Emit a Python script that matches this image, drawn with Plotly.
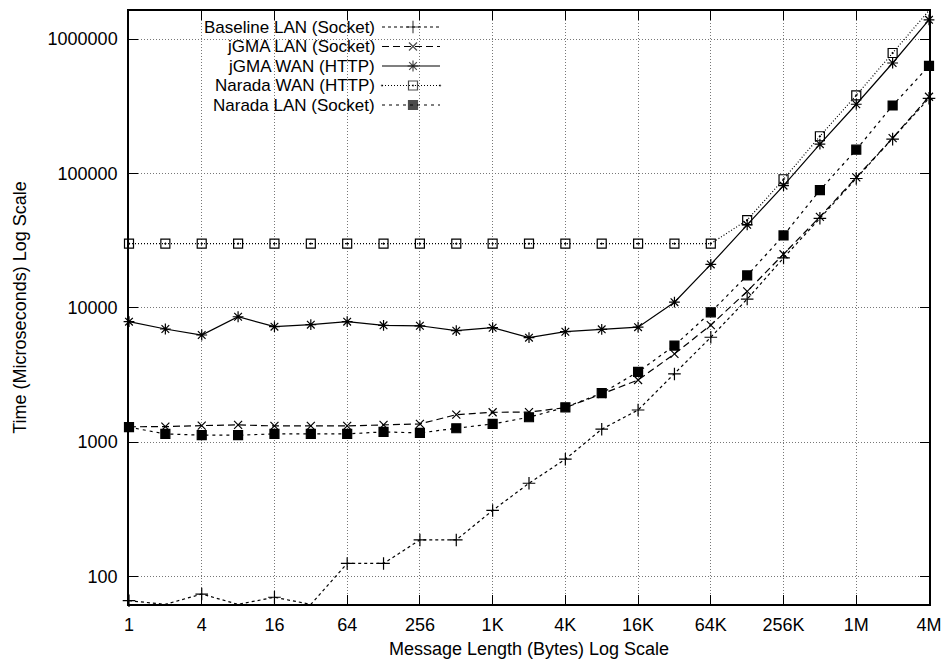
import plotly.graph_objects as go

# ---------------- data ----------------
msg_bytes = [2 ** k for k in range(23)]  # 1 .. 4M

baseline_lan = [66, 62, 74, 62, 70, 62, 125, 125, 187, 187, 310, 494, 746, 1247, 1734,
                3214, 6030, 11600, 23500, 46300, 91600, 180000, 362000]
jgma_lan = [1300, 1303, 1327, 1343, 1319, 1319, 1319, 1343, 1365, 1600, 1667, 1672, 1805,
            2280, 2900, 4530, 7430, 13240, 25000, 47500, 93300, 183000, 372000]
jgma_wan = [7870, 6945, 6265, 8570, 7230, 7480, 7870, 7400, 7340, 6745, 7100, 5985, 6630,
            6905, 7170, 11000, 21000, 41400, 81000, 165000, 327000, 663000, 1390000]
narada_wan = [30000, 30000, 30000, 30000, 30000, 30000, 30000, 30000, 30000, 30000, 30000,
              30000, 30000, 30000, 30000, 30000, 30000, 44900, 90400, 189000, 381000,
              787000, 1630000]
narada_lan = [1291, 1151, 1125, 1125, 1151, 1151, 1151, 1191, 1170, 1268, 1365, 1531, 1816,
              2311, 3330, 5230, 9250, 17400, 34500, 75000, 150000, 320000, 630000]

x_tickvals = [1, 4, 16, 64, 256, 1024, 4096, 16384, 65536, 262144, 1048576, 4194304]
x_ticktext = ["1", "4", "16", "64", "256", "1K", "4K", "16K", "64K", "256K", "1M", "4M"]
y_tickvals = [100, 1000, 10000, 100000, 1000000]
y_ticktext = ["100", "1000", "10000", "100000", "1000000"]

series_names = ["Baseline LAN (Socket)", "jGMA LAN (Socket)", "jGMA WAN (HTTP)",
                "Narada WAN (HTTP)", "Narada LAN (Socket)"]

# ---------------- styles ----------------
FONT = "Liberation Sans, Arial, Helvetica, sans-serif"
FS = 18
LEG_FS = 17
styles = [
    dict(dash="3px,3px", symbol="cross-thin-open", size=9),
    dict(dash="7px,4px", symbol="x-thin-open", size=8),
    dict(dash="solid", symbol="asterisk-open", size=9),
    dict(dash="1px,2px", symbol="square-open-dot", size=9),
    dict(dash="3px,4px", symbol="square", size=9),
]
series_values = [baseline_lan, jgma_lan, jgma_wan, narada_wan, narada_lan]

fig = go.Figure()
for name, vals, st in zip(series_names, series_values, styles):
    fig.add_trace(go.Scatter(
        x=msg_bytes, y=vals, name=name, mode="lines+markers",
        line=dict(color="black", width=1.2, dash=st["dash"]),
        marker=dict(symbol=st["symbol"], size=st["size"], color="black",
                    line=dict(color="black", width=1.2)),
        cliponaxis=False, showlegend=False,
    ))

W, H = 945, 664
L, R, T, B = 129, 929, 11, 604  # pixel positions of the plot area

# ---------------- custom gnuplot-style legend (pixel-space overlay axes) ----------------
legend_rows = [27, 46.5, 66, 85.5, 105]
for name, row, st in zip(series_names, legend_rows, styles):
    fig.add_trace(go.Scatter(
        x=[382, 413, 440], y=[row, row, row], xaxis="x2", yaxis="y2",
        mode="lines+markers", showlegend=False, hoverinfo="skip",
        line=dict(color="black", width=1.2, dash=st["dash"]),
        marker=dict(symbol=st["symbol"], size=[0, st["size"], 0], color="black",
                    line=dict(color="black", width=1.2)),
        cliponaxis=False,
    ))
    fig.add_annotation(x=376, y=row, xref="x2", yref="y2", text=name, showarrow=False,
                       xanchor="right", yanchor="middle", borderpad=0,
                       font=dict(family=FONT, size=LEG_FS, color="black"))

axis_common = dict(
    showline=True, linecolor="black", linewidth=1.5, mirror="allticks",
    ticks="inside", ticklen=9, tickwidth=1, tickcolor="black",
    showgrid=True, gridcolor="#777777", gridwidth=1, griddash="1px,2px",
    zeroline=False, tickfont=dict(family=FONT, size=FS, color="black"),
    automargin=False,
)

fig.update_layout(
    width=W, height=H,
    margin=dict(l=L, r=W - R, t=T, b=H - B),
    paper_bgcolor="white", plot_bgcolor="white",
    font=dict(family=FONT, size=FS, color="black"),
    xaxis=dict(type="log", range=[0, 6.6227], tickvals=x_tickvals, ticktext=x_ticktext,
               title=dict(text="Message Length (Bytes) Log Scale", standoff=8,
                          font=dict(family=FONT, size=FS)),
               ticklabelstandoff=4, **axis_common),
    yaxis=dict(type="log", range=[1.795, 6.2085], tickvals=y_tickvals, ticktext=y_ticktext,
               title=dict(text="Time (Microseconds) Log Scale", standoff=16,
                          font=dict(family=FONT, size=FS)),
               ticklabelstandoff=6, **axis_common),
    xaxis2=dict(range=[L, R], overlaying="x", visible=False, fixedrange=True),
    yaxis2=dict(range=[B, T], overlaying="y", visible=False, fixedrange=True),
    showlegend=False,
)

fig.write_html(
    "out.html",
    config={"displayModeBar": False},
    post_script="document.body.style.margin='0';document.body.style.overflow='hidden';",
)
